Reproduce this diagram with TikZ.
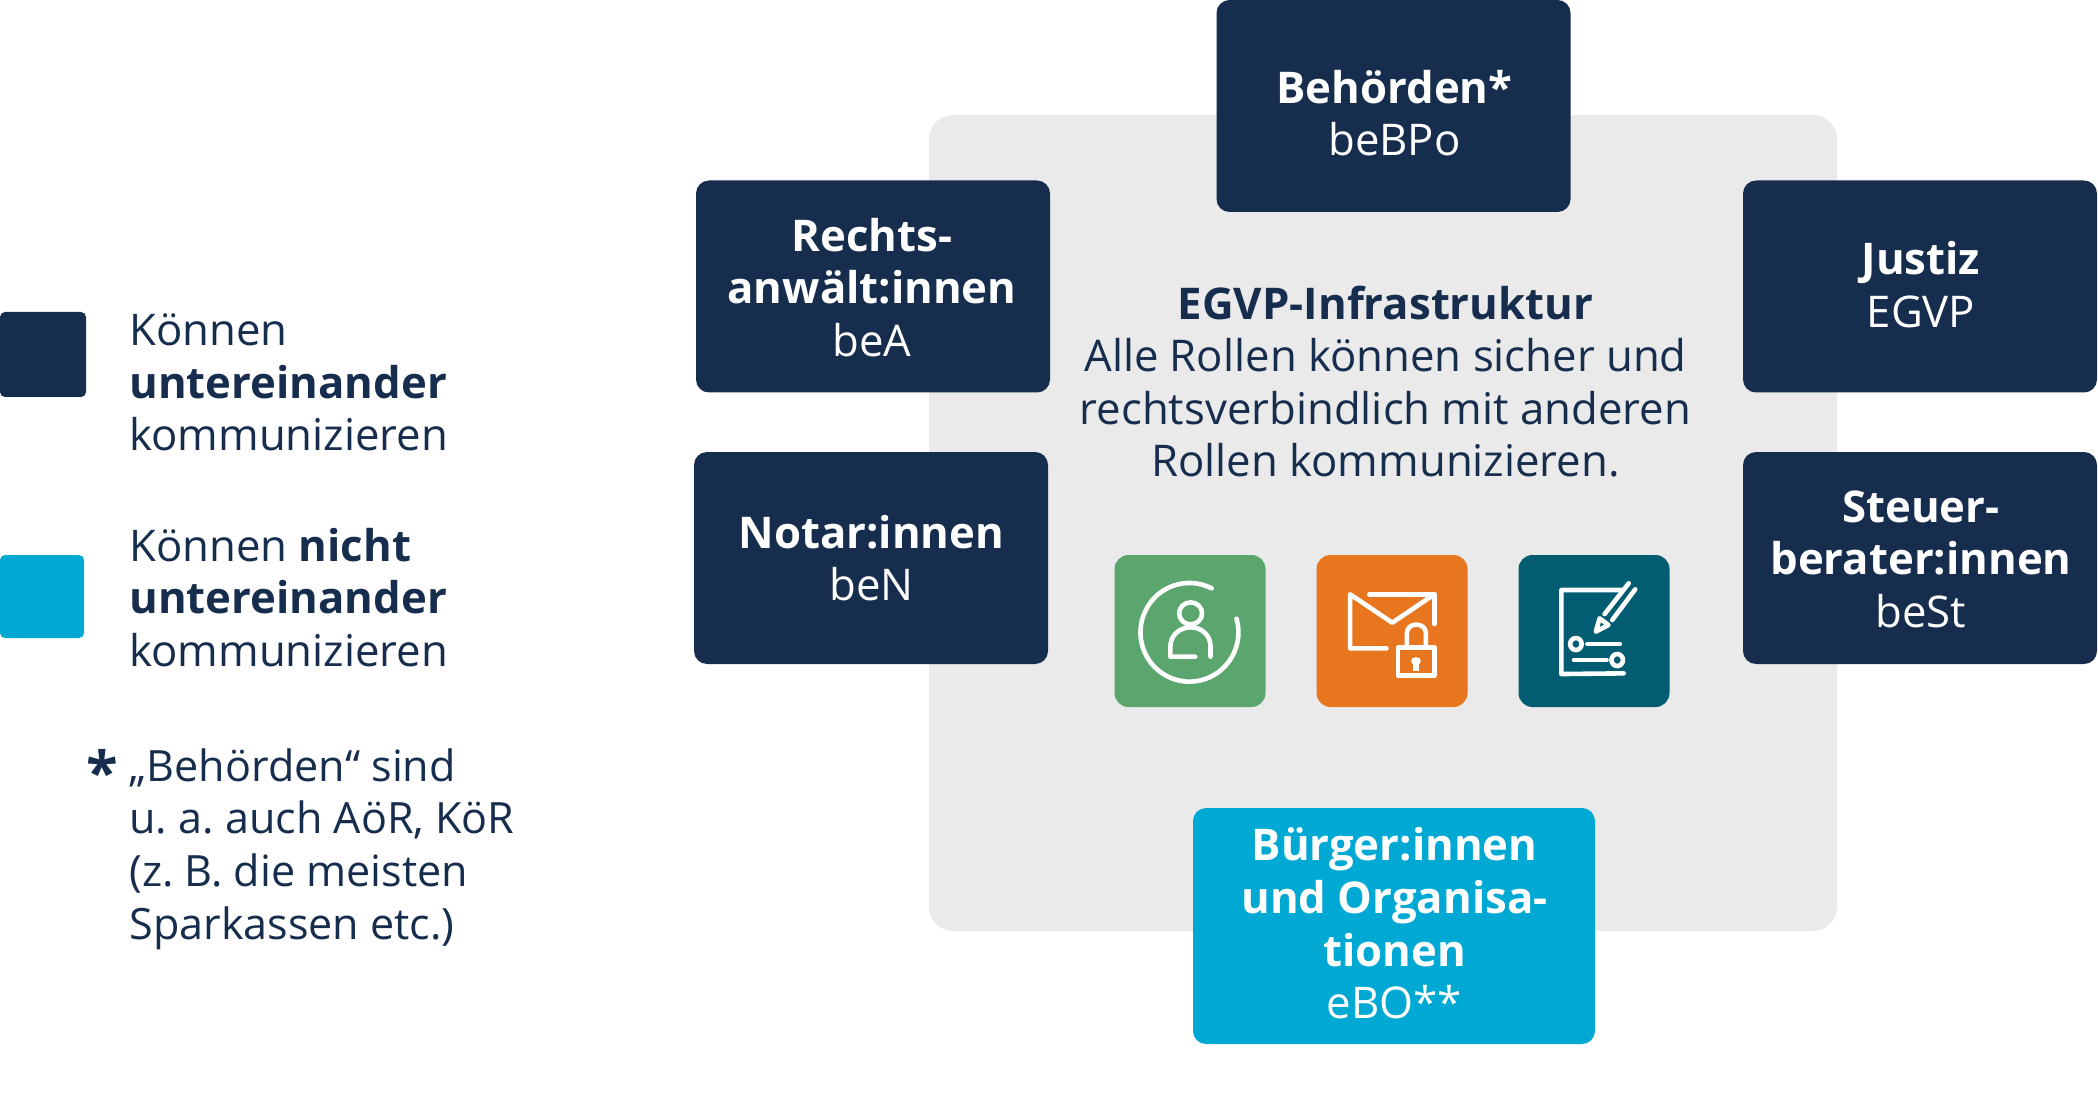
\documentclass[tikz,border=0pt]{standalone}
\usepackage{fontspec}
\setmainfont{Open Sans}
\definecolor{navy}{HTML}{162D4D}
\definecolor{cyanb}{HTML}{00A8D4}
\definecolor{greyb}{HTML}{EAEAEA}
\definecolor{greenb}{HTML}{5BA56E}
\definecolor{orangeb}{HTML}{E8761E}
\definecolor{tealb}{HTML}{025D72}
\tikzset{
  base text/.style={font=\fontsize{21.85}{26.3}\selectfont\frenchspacing, align=center, inner sep=0pt},
  role/.style={fill=navy, rounded corners=6.5pt, inner sep=0pt, minimum width=177pt, minimum height=106pt},
  rolecyan/.style={role, fill=cyanb, minimum width=201pt, minimum height=118pt},
  roletext/.style={base text, text=white},
  legendbox/.style={fill=#1, rounded corners=2.5pt, inner sep=0pt},
  iconbox/.style={fill=#1, rounded corners=7pt, inner sep=0pt, minimum width=75.5pt, minimum height=76pt},
  legendtext/.style={base text, align=left, text=navy, anchor=west},
  glyph/.style={draw=white, line width=2.3pt, line cap=round, line join=round},
  zoomed/.style={shift={(1090,540)}, x=0.1913pt, y=-0.1667pt}
}
\begin{document}
\begin{tikzpicture}[x=0.5pt,y=-0.5pt]
\useasboundingbox (0,0) rectangle (2098,1096);
% central field
\node[fill=greyb, rounded corners=12pt, minimum width=454pt, minimum height=408pt, inner sep=0pt] (infra) at (1383,523) {};
% role boxes
\node[role] (beh) at (1393.5,106) {};
\node[roletext] (behtext) at (1394.5,113) {\textbf{Behörden*}\\beBPo};
\node[role] (ra) at (873,286.5) {};
\node[roletext] (ratext) at (872,287.5) {\textbf{Rechts-}\\\textbf{anwält:innen}\\beA};
\node[role] (no) at (871,558) {};
\node[roletext] (notext) at (871.5,558) {\textbf{Notar:innen}\\beN};
\node[role] (ju) at (1920,286.5) {};
\node[roletext] (jutext) at (1921,284.5) {\textbf{Justiz}\\EGVP};
\node[role] (st) at (1920,558) {};
\node[roletext] (sttext) at (1921,559) {\textbf{Steuer-}\\\textbf{berater:innen}\\beSt};
\node[rolecyan] (bu) at (1394,926) {};
\node[roletext] (butext) at (1394.5,923.5) {\textbf{Bürger:innen}\\\textbf{und Organisa-}\\\textbf{tionen}\\eBO**};
% central text
\node[base text, text=navy] (title) at (1385.5,381.5) {\textbf{EGVP-Infrastruktur}\\Alle Rollen können sicher und\\rechtsverbindlich mit anderen\\Rollen kommunizieren.};
% icon tiles
\node[iconbox=greenb] (ig) at (1190,631) {};
\node[iconbox=orangeb] (io) at (1392,631) {};
\node[iconbox=tealb] (it) at (1594,631) {};
\begin{scope}[zoomed]
  % person icon
  \draw[glyph] (318,145) arc[start angle=-63,end angle=-376,x radius=128,y radius=148];
  \draw[glyph] (263,220) ellipse[x radius=30,y radius=33];
  \draw[glyph] (275,350) -- (210,350) -- (210,320) .. controls (210,285) and (235,262) .. (263,262) .. controls (292,262) and (315,285) .. (315,320) -- (315,350);
  % envelope icon
  \draw[glyph] (730,163) -- (900,163) -- (900,252);
  \draw[glyph] (775,325) -- (680,325) -- (680,163) -- (790,248) -- (900,163);
  \draw[glyph] (805,322) rectangle (900,407);
  \draw[glyph] (828,322) -- (828,280) .. controls (828,245) and (878,245) .. (878,280) -- (878,322);
  \fill[white] (852,363) ellipse[x radius=13,y radius=12];
  \fill[white] (845,365) rectangle (859,392);
  % document icon
  \draw[glyph] (1390,150) -- (1232,150) -- (1232,402) -- (1395,400);
  \draw[glyph] (1345,222) -- (1408,130);
  \draw[glyph] (1365,240) -- (1425,148);
  \draw[glyph] (1332,235) -- (1355,255) -- (1322,275) -- cycle;
  \draw[glyph] (1270,312) ellipse[x radius=15,y radius=18];
  \draw[glyph] (1300,312) -- (1385,312);
  \draw[glyph] (1265,360) -- (1350,360);
  \draw[glyph] (1378,360) ellipse[x radius=15,y radius=18];
\end{scope}
% legend
\node[legendbox=navy, minimum width=43pt, minimum height=42.5pt] (ld) at (43,354.5) {};
\node[legendbox=cyanb, minimum width=42pt, minimum height=41.5pt] (lc) at (42,596.5) {};
\node[legendtext] (t1) at (129,382.5) {Können\\\textbf{untereinander}\\kommunizieren};
\node[legendtext] (t2) at (129,597.5) {Können \textbf{nicht}\\\textbf{untereinander}\\kommunizieren};
\node[legendtext, font=\fontsize{21.55}{26.3}\selectfont\frenchspacing] (t3) at (129,849) {„Behörden“ sind\\u. a. auch AöR, KöR\\(z. B. die meisten\\Sparkassen etc.)};
\node[base text, text=navy, font=\fontsize{29}{29}\selectfont\bfseries] (star) at (102.5,771) {*};
\end{tikzpicture}
\end{document}
